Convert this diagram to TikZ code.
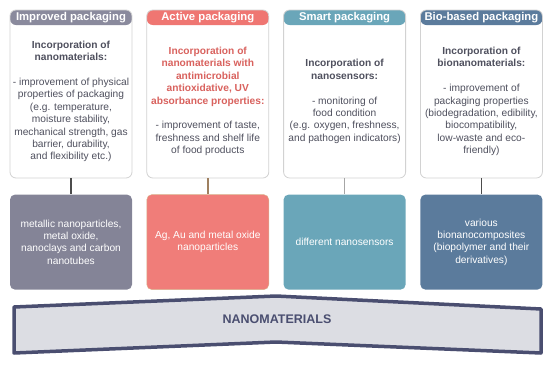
\documentclass[tikz,border=0pt]{standalone}
\usepackage{fontspec}
\setmainfont{Liberation Sans}
\usetikzlibrary{positioning}

\definecolor{improvedcol}{HTML}{8A8A9D}
\definecolor{activecol}{HTML}{EF7672}
\definecolor{smartcol}{HTML}{6AA6B9}
\definecolor{biocol}{HTML}{5B7B9C}
\definecolor{textgray}{HTML}{4F505E}
\definecolor{activetext}{HTML}{D9625E}
\definecolor{bannerline}{HTML}{4A4E70}
\definecolor{bannerfill}{HTML}{DCDDE3}

\begin{document}
\begin{tikzpicture}[
    x=1pt, y=-1pt,
    card/.style={
        rectangle,
        draw=gray!35,
        fill=white,
        thick,
        minimum width=122pt,
        minimum height=168pt,
        rounded corners=6pt,
        inner sep=0pt,
        path picture={
            \fill[#1] (path picture bounding box.north west)
                rectangle ([yshift=-15pt]path picture bounding box.north east);
        }
    },
    head/.style={
        font=\bfseries\fontsize{11.3}{13}\selectfont,
        text=white,
        minimum height=15pt,
        inner sep=0pt
    },
    body/.style={
        font=\fontsize{10.2}{12.4}\selectfont,
        text=textgray,
        align=center,
        inner sep=0pt
    },
    material/.style={
        rectangle,
        rounded corners=5pt,
        minimum width=122pt,
        minimum height=95pt,
        text=white,
        align=center,
        inner sep=2pt,
        font=\fontsize{10.2}{12.4}\selectfont
    },
    stem/.style={
        draw=#1,
        line width=1.5pt
    }
]
    \useasboundingbox (0,0) rectangle (550,365);

    % PACKAGING CARDS (Top Row)
    \node[card=improvedcol] (improved) at (71,94) {};
    \node[card=activecol, right=14pt of improved] (active) {};
    \node[card=smartcol, right=14pt of active] (smart) {};
    \node[card=biocol, right=14pt of smart] (bio) {};

    % CARD HEADERS
    \node[head, below=0pt of improved.north] (improvedhead) {Improved packaging};
    \node[head, below=0pt of active.north] (activehead) {Active packaging};
    \node[head, below=0pt of smart.north] (smarthead) {Smart packaging};
    \node[head, below=0pt of bio.north] (biohead) {Bio-based packaging};

    % CARD TEXTS
    \node[body] (improvedtext) at ([yshift=-7.5pt]improved.center) {\textbf{Incorporation of}\\ \textbf{nanomaterials:}\\[12.4pt]
        - improvement of physical\\ properties of packaging\\ (e.g. temperature,\\ moisture stability,\\
        mechanical strength, gas\\ barrier, durability,\\ and flexibility etc.)};
    \node[body] (activetext) at ([yshift=-7.5pt]active.center) {\textcolor{activetext}{\textbf{Incorporation of}}\\
        \textcolor{activetext}{\textbf{nanomaterials with}}\\ \textcolor{activetext}{\textbf{antimicrobial}}\\
        \textcolor{activetext}{\textbf{antioxidative, UV}}\\ \textcolor{activetext}{\textbf{absorbance properties:}}\\[12.4pt]
        - improvement of taste,\\ freshness and shelf life\\ of food products};
    \node[body] (smarttext) at ([yshift=-7.5pt]smart.center) {\textbf{Incorporation of}\\ \textbf{nanosensors:}\\[12.4pt]
        - monitoring of\\ food condition\\ (e.g. oxygen, freshness,\\ and pathogen indicators)};
    \node[body] (biotext) at ([yshift=-7.5pt]bio.center) {\textbf{Incorporation of}\\ \textbf{bionanomaterials:}\\[12.4pt]
        - improvement of\\ packaging properties\\ (biodegradation, edibility,\\ biocompatibility,\\
        low-waste and eco-\\ friendly)};

    % NANOMATERIAL BOXES (Bottom Row)
    \node[material, fill=improvedcol!96!black, below=16pt of improved] (improvedmat) {metallic nanoparticles,\\ metal oxide,\\ nanoclays and carbon\\ nanotubes};
    \node[material, fill=activecol!95!white, draw=brown!60, below=16pt of active] (activemat) {Ag, Au and metal oxide\\ nanoparticles};
    \node[material, fill=smartcol, below=16pt of smart] (smartmat) {different nanosensors};
    \node[material, fill=biocol, below=16pt of bio] (biomat) {various\\ bionanocomposites\\ (biopolymer and their\\ derivatives)};

    % STEMS
    \draw[stem=gray!60!black] (improved) -- (improvedmat);
    \draw[stem=brown!50!gray] (active) -- (activemat);
    \draw[stem=gray!70] (smart) -- (smartmat);
    \draw[stem=gray!60!black] (bio) -- (biomat);

    % NANOMATERIALS BANNER
    \draw[line width=3.5pt, draw=bannerline, fill=bannerfill, line join=round]
        (14,307) -- (276,296) -- (541,309) -- (541,353) -- (276,342) -- (14,353) -- cycle;
    \node[font=\bfseries\fontsize{12.5}{14}\selectfont, text=bannerline] (nano) at (277,319) {NANOMATERIALS};

\end{tikzpicture}
\end{document}
